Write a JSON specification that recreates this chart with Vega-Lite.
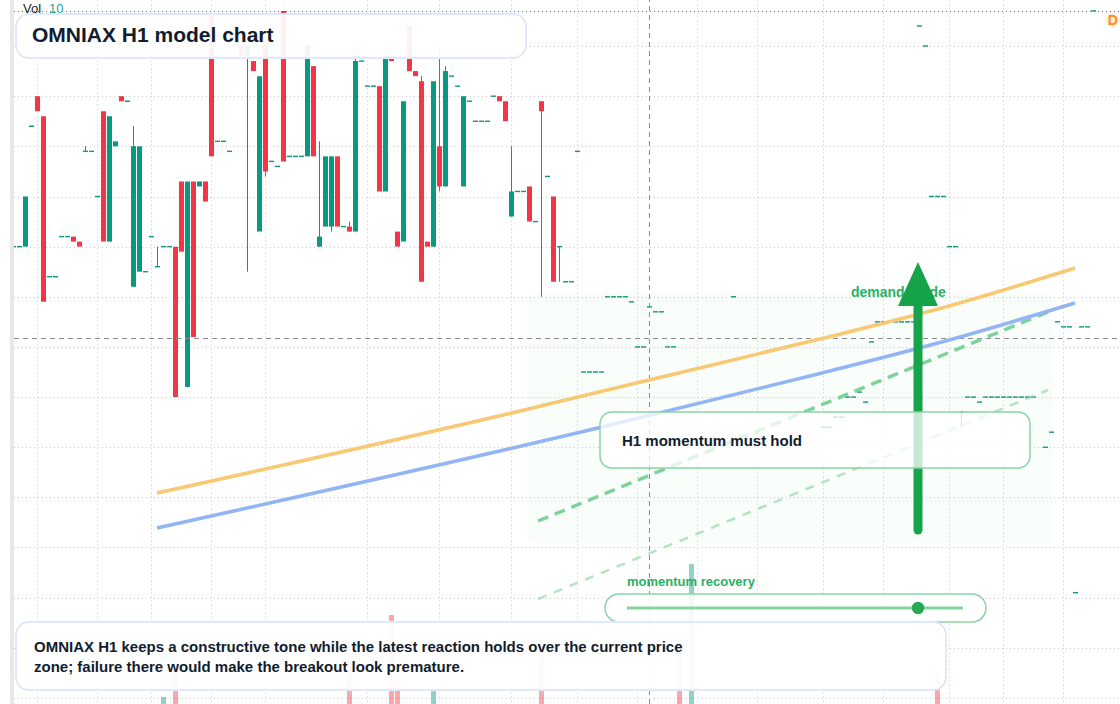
{
  "$schema": "https://vega.github.io/schema/vega-lite/v6.json",
  "description": "OMNIAX H1 model chart",
  "width": 1120,
  "height": 704,
  "padding": 0,
  "autosize": "none",
  "background": "#ffffff",
  "config": {"view": {"stroke": null}, "text": {"font": "Liberation Sans"}},
  "datasets": {
    "levels": [
      {"i":-0.917,"i2":183.4167,"p":229.91},{"i":-0.917,"i2":183.4167,"p":219.94},{"i":-0.917,"i2":183.4167,"p":209.97},
      {"i":-0.917,"i2":183.4167,"p":199.8},{"i":-0.917,"i2":183.4167,"p":189.83},{"i":-0.917,"i2":183.4167,"p":179.86},
      {"i":-0.917,"i2":183.4167,"p":169.89},{"i":-0.917,"i2":183.4167,"p":159.92},{"i":-0.917,"i2":183.4167,"p":149.95},
      {"i":-0.917,"i2":183.4167,"p":139.98},{"i":-0.917,"i2":183.4167,"p":130},{"i":-0.917,"i2":183.4167,"p":119.84},
      {"i":-0.917,"i2":183.4167,"p":109.87},{"i":-0.917,"i2":183.4167,"p":99.9}
    ],
    "candles": [
      {"i":-1,"open":190,"close":190,"dir":"up"},{"i":0,"open":190,"close":190,"dir":"up"},
      {"i":1,"open":190,"close":200,"dir":"up"},{"i":2,"open":214,"close":214,"dir":"up"},
      {"i":3,"open":220,"close":217,"dir":"down"},{"i":4,"open":216,"close":179,"dir":"down"},
      {"i":5,"open":184,"close":184,"dir":"up"},{"i":6,"open":184,"close":184,"dir":"up"},
      {"i":7,"open":192,"close":192,"dir":"up"},{"i":8,"open":192,"close":192,"dir":"up"},
      {"i":9,"open":192,"close":191,"dir":"down"},{"i":10,"open":191,"close":190,"dir":"down"},
      {"i":11,"open":209,"close":209,"high":210,"low":209,"dir":"up"},{"i":12,"open":209,"close":209,"dir":"up"},
      {"i":13,"open":200,"close":200,"dir":"up"},{"i":14,"open":217,"close":191,"dir":"down"},
      {"i":15,"open":191,"close":216,"dir":"up"},{"i":16,"open":210,"close":211,"dir":"up"},
      {"i":17,"open":220,"close":219,"dir":"down"},{"i":18,"open":219,"close":219,"dir":"up"},
      {"i":19,"open":182,"close":210,"high":214,"low":182,"dir":"up"},{"i":20,"open":185,"close":210,"dir":"up"},
      {"i":21,"open":185,"close":185,"dir":"up"},{"i":22,"open":192,"close":192,"dir":"up"},
      {"i":23,"open":186,"close":186,"high":190,"low":186,"dir":"up"},{"i":24,"open":190,"close":190,"dir":"up"},
      {"i":25,"open":190,"close":190,"dir":"up"},{"i":26,"open":190,"close":160,"dir":"down"},
      {"i":27,"open":203,"close":189,"dir":"down"},{"i":28,"open":162,"close":203,"dir":"up"},
      {"i":29,"open":203,"close":172,"dir":"down"},{"i":30,"open":202,"close":203,"dir":"up"},
      {"i":31,"open":203,"close":199,"dir":"down"},{"i":32,"open":236,"close":208,"dir":"down"},
      {"i":33,"open":211,"close":211,"dir":"up"},{"i":34,"open":211,"close":211,"dir":"up"},
      {"i":35,"open":209,"close":209,"dir":"up"},{"i":36,"open":234,"close":233,"dir":"down"},
      {"i":37,"open":230,"close":228,"dir":"down"},{"i":38,"open":228,"close":230,"high":230,"low":185,"dir":"up"},
      {"i":39,"open":227,"close":225,"dir":"down"},{"i":40,"open":193,"close":224,"dir":"up"},
      {"i":41,"open":231,"close":205,"high":231,"low":204,"dir":"down"},{"i":42,"open":207,"close":207,"dir":"up"},
      {"i":43,"open":206,"close":206,"dir":"up"},{"i":44,"open":237,"close":207,"dir":"down"},
      {"i":45,"open":208,"close":208,"dir":"up"},{"i":46,"open":208,"close":208,"dir":"up"},
      {"i":47,"open":208,"close":208,"dir":"up"},{"i":48,"open":208,"close":230,"dir":"up"},
      {"i":49,"open":226,"close":208,"dir":"down"},{"i":50,"open":190,"close":192,"high":211,"low":190,"dir":"up"},
      {"i":51,"open":194,"close":208,"dir":"up"},{"i":52,"open":194,"close":208,"high":208,"low":193,"dir":"up"},
      {"i":53,"open":208,"close":194,"dir":"down"},{"i":54,"open":194,"close":194,"dir":"up"},
      {"i":55,"open":194,"close":193,"high":195,"low":193,"dir":"down"},{"i":56,"open":193,"close":227,"high":228,"low":193,"dir":"up"},
      {"i":57,"open":227,"close":227,"dir":"up"},{"i":58,"open":222,"close":222,"dir":"up"},
      {"i":59,"open":222,"close":222,"dir":"up"},{"i":60,"open":222,"close":201,"dir":"down"},
      {"i":61,"open":201,"close":228,"dir":"up"},{"i":62,"open":228,"close":227,"dir":"down"},
      {"i":63,"open":193,"close":190,"dir":"down"},{"i":64,"open":191,"close":219,"dir":"up"},
      {"i":65,"open":234,"close":225,"dir":"down"},{"i":66,"open":225,"close":224,"dir":"down"},
      {"i":67,"open":223,"close":183,"high":224,"low":183,"dir":"down"},{"i":68,"open":191,"close":190,"dir":"down"},
      {"i":69,"open":190,"close":223,"dir":"up"},{"i":70,"open":210,"close":202,"high":230,"low":201,"dir":"down"},
      {"i":71,"open":202,"close":225,"high":226,"low":202,"dir":"up"},{"i":72,"open":224,"close":224,"dir":"up"},
      {"i":73,"open":222,"close":222,"dir":"up"},{"i":74,"open":202,"close":220,"dir":"up"},
      {"i":75,"open":219,"close":219,"dir":"up"},{"i":76,"open":215,"close":215,"dir":"up"},
      {"i":77,"open":215,"close":215,"dir":"up"},{"i":78,"open":215,"close":215,"dir":"up"},
      {"i":79,"open":220,"close":220,"dir":"up"},{"i":80,"open":220,"close":219,"dir":"down"},
      {"i":81,"open":219,"close":215,"dir":"down"},{"i":82,"open":196,"close":201,"high":210,"low":196,"dir":"up"},
      {"i":83,"open":201,"close":201,"dir":"up"},{"i":84,"open":201,"close":201,"dir":"up"},
      {"i":85,"open":202,"close":195,"dir":"down"},{"i":86,"open":195,"close":195,"dir":"up"},
      {"i":87,"open":219,"close":217,"high":219,"low":180,"dir":"down"},{"i":88,"open":204,"close":204,"dir":"up"},
      {"i":89,"open":200,"close":183,"dir":"down"},{"i":90,"open":190,"close":190,"high":190,"low":183,"dir":"up"},
      {"i":91,"open":183,"close":183,"dir":"up"},{"i":92,"open":183,"close":183,"dir":"up"},
      {"i":93,"open":209,"close":209,"dir":"up"},{"i":94,"open":165,"close":165,"dir":"up"},
      {"i":95,"open":165,"close":165,"dir":"up"},{"i":96,"open":165,"close":165,"dir":"up"},
      {"i":97,"open":165,"close":165,"dir":"up"},{"i":98,"open":180,"close":180,"dir":"up"},
      {"i":99,"open":180,"close":180,"dir":"up"},{"i":100,"open":180,"close":180,"dir":"up"},
      {"i":101,"open":180,"close":180,"dir":"up"},{"i":102,"open":179,"close":179,"dir":"up"},
      {"i":103,"open":170,"close":170,"dir":"up"},{"i":104,"open":170,"close":170,"dir":"up"},
      {"i":105,"open":178,"close":178,"dir":"up"},{"i":106,"open":177,"close":177,"dir":"up"},
      {"i":107,"open":177,"close":177,"dir":"up"},{"i":108,"open":170,"close":170,"dir":"up"},
      {"i":109,"open":170,"close":170,"dir":"up"},{"i":119,"open":180,"close":180,"dir":"up"},
      {"i":134,"open":154,"close":154,"dir":"up"},{"i":135,"open":154,"close":154,"dir":"up"},
      {"i":136,"open":156,"close":156,"dir":"up"},{"i":137,"open":156,"close":156,"dir":"up"},
      {"i":138,"open":160,"close":160,"dir":"up"},{"i":139,"open":160,"close":160,"dir":"up"},
      {"i":140,"open":161,"close":161,"dir":"up"},{"i":141,"open":159,"close":159,"dir":"up"},
      {"i":142,"open":171,"close":171,"dir":"up"},{"i":143,"open":175,"close":175,"dir":"up"},
      {"i":144,"open":175,"close":175,"dir":"up"},{"i":145,"open":175,"close":175,"dir":"up"},
      {"i":146,"open":175,"close":175,"dir":"up"},{"i":147,"open":175,"close":175,"dir":"up"},
      {"i":148,"open":175,"close":175,"dir":"up"},{"i":149,"open":175,"close":175,"dir":"up"},
      {"i":150,"open":234,"close":234,"dir":"up"},{"i":151,"open":230,"close":230,"dir":"up"},
      {"i":152,"open":200,"close":200,"dir":"up"},{"i":153,"open":200,"close":200,"dir":"up"},
      {"i":154,"open":200,"close":200,"dir":"up"},{"i":155,"open":190,"close":190,"dir":"up"},
      {"i":156,"open":190,"close":190,"dir":"up"},{"i":157,"open":157,"close":157,"high":157,"low":154,"dir":"up"},
      {"i":158,"open":160,"close":160,"dir":"up"},{"i":159,"open":160,"close":160,"dir":"up"},
      {"i":160,"open":159,"close":159,"dir":"up"},{"i":161,"open":160,"close":160,"dir":"up"},
      {"i":162,"open":160,"close":160,"dir":"up"},{"i":163,"open":160,"close":160,"dir":"up"},
      {"i":164,"open":160,"close":160,"dir":"up"},{"i":165,"open":160,"close":160,"dir":"up"},
      {"i":166,"open":160,"close":160,"dir":"up"},{"i":167,"open":160,"close":160,"dir":"up"},
      {"i":168,"open":160,"close":160,"dir":"up"},{"i":169,"open":160,"close":160,"dir":"up"},
      {"i":171,"open":150,"close":150,"dir":"up"},{"i":172,"open":153,"close":153,"dir":"up"},
      {"i":173,"open":175,"close":175,"dir":"up"},{"i":174,"open":174,"close":174,"dir":"up"},
      {"i":175,"open":174,"close":174,"dir":"up"},{"i":176,"open":121,"close":121,"dir":"up"},
      {"i":177,"open":174,"close":174,"dir":"up"},{"i":178,"open":174,"close":174,"dir":"up"},
      {"i":179,"open":237,"close":237,"dir":"up"}
    ],
    "volume": [
      {"i":24,"vol":1.4,"dir":"up"},{"i":26,"vol":6.4,"dir":"down"},{"i":55,"vol":8.8,"dir":"down"},
      {"i":62,"vol":17.8,"dir":"down"},{"i":63,"vol":6.4,"dir":"down"},{"i":69,"vol":3,"dir":"up"},
      {"i":87,"vol":9.8,"dir":"down"},{"i":110,"vol":10.2,"dir":"down"},{"i":112,"vol":28,"dir":"up"},
      {"i":153,"vol":6.2,"dir":"down"}
    ],
    "fast": [
      {"i":22.92,"p":140.87},{"i":83.42,"p":157.23},{"i":104.92,"p":163.41},
      {"i":133.42,"p":171.58},{"i":154.92,"p":178.16},{"i":175.92,"p":185.74}
    ],
    "slow": [
      {"i":22.92,"p":133.9},{"i":96.75,"p":153.94},{"i":133.42,"p":164.7},
      {"i":154.92,"p":171.38},{"i":175.92,"p":178.76}
    ],
    "upper": [{"i":86.42,"p":135.29},{"i":171.42,"p":176.97}],
    "lower": [{"i":86.42,"p":119.74},{"i":171.42,"p":161.41}]
  },
  "encoding": {
    "x": {
      "field": "i",
      "type": "quantitative",
      "scale": {"domain": [-3.25, 183.4167], "nice": false, "zero": false, "padding": 0},
      "axis": {
        "values": [3,13,22,32,41,58,70,82,93,103,113,123,134,144,155,164,174],
        "grid": true, "gridColor": "#c8c8c8", "gridDash": [1,3], "gridWidth": 1,
        "labels": false, "ticks": false, "domain": false, "title": null
      }
    }
  },
  "resolve": {"scale": {"y": "independent"}},
  "layer": [
    {
      "data": {"name": "levels"},
      "mark": {"type": "rule", "stroke": "#c8c8c8", "strokeWidth": 1, "strokeDash": [1,3]},
      "encoding": {
        "x2": {"field": "i2"},
        "y": {"field": "p", "type": "quantitative", "scale": {"domain": [98.8, 239.18], "nice": false, "zero": false}, "axis": null}
      }
    },
    {
      "data": {"name": "volume"},
      "mark": {"type": "bar", "orient": "vertical", "size": 5, "opacity": 0.44},
      "encoding": {
        "y": {"field": "vol", "type": "quantitative", "scale": {"domain": [0, 140.8], "nice": false}, "axis": null},
        "color": {"field": "dir", "type": "nominal", "scale": {"domain": ["up","down"], "range": ["#089981","#f23645"]}, "legend": null}
      }
    },
    {
      "layer": [
        {
          "data": {"values": [{"i":84.58,"i2":172.08,"p":180.76,"p2":130.9}]},
          "mark": {"type": "rect", "fill": "#34e37a", "opacity": 0.03, "cornerRadius": 10},
          "encoding": {
            "x2": {"field": "i2"},
            "y": {"field": "p", "type": "quantitative", "scale": {"domain": [98.8, 239.18], "nice": false, "zero": false}, "axis": null},
            "y2": {"field": "p2"}
          }
        },
        {
          "data": {"name": "candles"},
          "transform": [{"filter": "isValid(datum.high)"}],
          "mark": {"type": "rule", "strokeWidth": 1},
          "encoding": {
            "y": {"field": "high", "type": "quantitative", "scale": {"domain": [98.8, 239.18], "nice": false, "zero": false}, "axis": null},
            "y2": {"field": "low"},
            "color": {"field": "dir", "type": "nominal", "scale": {"domain": ["up","down"], "range": ["#089981","#f23645"]}, "legend": null}
          }
        },
        {
          "data": {"name": "candles"},
          "transform": [{"filter": "datum.open != datum.close"}],
          "mark": {"type": "bar", "orient": "vertical", "size": 5},
          "encoding": {
            "y": {"field": "open", "type": "quantitative", "scale": {"domain": [98.8, 239.18], "nice": false, "zero": false}, "axis": null},
            "y2": {"field": "close"},
            "color": {"field": "dir", "type": "nominal", "scale": {"domain": ["up","down"], "range": ["#089981","#f23645"]}, "legend": null}
          }
        },
        {
          "data": {"name": "candles"},
          "transform": [{"filter": "datum.open == datum.close"}],
          "mark": {"type": "tick", "orient": "horizontal", "size": 5, "thickness": 1.4, "opacity": 1},
          "encoding": {
            "y": {"field": "close", "type": "quantitative", "scale": {"domain": [98.8, 239.18], "nice": false, "zero": false}, "axis": null},
            "color": {"field": "dir", "type": "nominal", "scale": {"domain": ["up","down"], "range": ["#089981","#f23645"]}, "legend": null}
          }
        },
        {
          "data": {"values": [{"i":-3.25,"i2":-1.583,"p":98.8,"p2":239.18}]},
          "mark": {"type": "rect", "fill": "#ffffff"},
          "encoding": {
            "x2": {"field": "i2"},
            "y": {"field": "p", "type": "quantitative", "scale": {"domain": [98.8, 239.18], "nice": false, "zero": false}, "axis": null},
            "y2": {"field": "p2"}
          }
        },
        {
          "data": {"values": [{"i":-1.583,"i2":-0.917,"p":98.8,"p2":239.18}]},
          "mark": {"type": "rect", "fill": "#e8e8e8"},
          "encoding": {
            "x2": {"field": "i2"},
            "y": {"field": "p", "type": "quantitative", "scale": {"domain": [98.8, 239.18], "nice": false, "zero": false}, "axis": null},
            "y2": {"field": "p2"}
          }
        },
        {
          "data": {"values": [{"i":-0.917,"i2":183.4167,"p":236.89}]},
          "mark": {"type": "rule", "stroke": "#089981", "strokeWidth": 1, "strokeDash": [1,3]},
          "encoding": {
            "x2": {"field": "i2"},
            "y": {"field": "p", "type": "quantitative", "scale": {"domain": [98.8, 239.18], "nice": false, "zero": false}, "axis": null}
          }
        },
        {
          "data": {"values": [{"i":-0.917,"i2":183.4167,"p":171.68}]},
          "mark": {"type": "rule", "stroke": "#8c8c8c", "strokeWidth": 1, "strokeDash": [5,4]},
          "encoding": {
            "x2": {"field": "i2"},
            "y": {"field": "p", "type": "quantitative", "scale": {"domain": [98.8, 239.18], "nice": false, "zero": false}, "axis": null}
          }
        },
        {
          "data": {"values": [{"i":105,"p":98.8,"p2":239.18}]},
          "mark": {"type": "rule", "stroke": "#8c8c8c", "strokeWidth": 1, "strokeDash": [5,4]},
          "encoding": {
            "y": {"field": "p", "type": "quantitative", "scale": {"domain": [98.8, 239.18], "nice": false, "zero": false}, "axis": null},
            "y2": {"field": "p2"}
          }
        },
        {
          "data": {"values": [{"i":138.58,"p":180.76,"label":"demand guide"}]},
          "mark": {"type": "text", "align": "left", "baseline": "middle", "fontSize": 14, "fontWeight": "bold", "fill": "#2bb065"},
          "encoding": {
            "y": {"field": "p", "type": "quantitative", "scale": {"domain": [98.8, 239.18], "nice": false, "zero": false}, "axis": null},
            "text": {"field": "label"}
          }
        },
        {
          "data": {"name": "lower"},
          "mark": {"type": "line", "stroke": "#86d3a0", "strokeWidth": 2.5, "opacity": 0.62, "strokeDash": [9,8]},
          "encoding": {
            "y": {"field": "p", "type": "quantitative", "scale": {"domain": [98.8, 239.18], "nice": false, "zero": false}, "axis": null}
          }
        },
        {
          "data": {"name": "upper"},
          "mark": {"type": "line", "stroke": "#7fd29c", "strokeWidth": 3.5, "strokeDash": [11,7]},
          "encoding": {
            "y": {"field": "p", "type": "quantitative", "scale": {"domain": [98.8, 239.18], "nice": false, "zero": false}, "axis": null}
          }
        },
        {
          "data": {"name": "slow"},
          "mark": {"type": "line", "stroke": "#93b5f5", "strokeWidth": 3.6, "interpolate": "monotone"},
          "encoding": {
            "y": {"field": "p", "type": "quantitative", "scale": {"domain": [98.8, 239.18], "nice": false, "zero": false}, "axis": null}
          }
        },
        {
          "data": {"name": "fast"},
          "mark": {"type": "line", "stroke": "#f8c873", "strokeWidth": 3.6, "interpolate": "monotone"},
          "encoding": {
            "y": {"field": "p", "type": "quantitative", "scale": {"domain": [98.8, 239.18], "nice": false, "zero": false}, "axis": null}
          }
        },
        {
          "data": {"values": [{"i":149.75,"p":179.36,"p2":133.5}]},
          "mark": {"type": "rule", "stroke": "#16a34a", "strokeWidth": 9, "strokeCap": "round"},
          "encoding": {
            "y": {"field": "p", "type": "quantitative", "scale": {"domain": [98.8, 239.18], "nice": false, "zero": false}, "axis": null},
            "y2": {"field": "p2"}
          }
        },
        {
          "data": {"values": [{"i":146.417,"p":178.16,"p2":178.16},{"i":149.75,"p":186.94,"p2":178.16},{"i":153.08,"p":178.16,"p2":178.16}]},
          "mark": {"type": "area", "fill": "#16a34a", "orient": "vertical"},
          "encoding": {
            "y": {"field": "p", "type": "quantitative", "scale": {"domain": [98.8, 239.18], "nice": false, "zero": false}, "axis": null},
            "y2": {"field": "p2"}
          }
        },
        {
          "data": {"values": [{"i":97.58,"i2":161.08,"p":120.74,"p2":115.15}]},
          "mark": {"type": "rect", "fill": "#ffffff", "fillOpacity": 0.88, "stroke": "#8ad3a5", "strokeWidth": 1.5, "cornerRadius": 14},
          "encoding": {
            "x2": {"field": "i2"},
            "y": {"field": "p", "type": "quantitative", "scale": {"domain": [98.8, 239.18], "nice": false, "zero": false}, "axis": null},
            "y2": {"field": "p2"}
          }
        },
        {
          "data": {"values": [{"i":101.25,"i2":157.25,"p":117.94}]},
          "mark": {"type": "rule", "stroke": "#86d3a0", "strokeWidth": 3},
          "encoding": {
            "x2": {"field": "i2"},
            "y": {"field": "p", "type": "quantitative", "scale": {"domain": [98.8, 239.18], "nice": false, "zero": false}, "axis": null}
          }
        },
        {
          "data": {"values": [{"i":149.75,"p":117.94}]},
          "mark": {"type": "point", "shape": "circle", "filled": true, "fill": "#27a853", "size": 154, "opacity": 1},
          "encoding": {
            "y": {"field": "p", "type": "quantitative", "scale": {"domain": [98.8, 239.18], "nice": false, "zero": false}, "axis": null}
          }
        },
        {
          "data": {"values": [{"i":96.75,"i2":168.417,"p":157.03,"p2":145.86}]},
          "mark": {"type": "rect", "fill": "#ffffff", "fillOpacity": 0.76, "stroke": "#8ad3a5", "strokeWidth": 1.5, "cornerRadius": 12},
          "encoding": {
            "x2": {"field": "i2"},
            "y": {"field": "p", "type": "quantitative", "scale": {"domain": [98.8, 239.18], "nice": false, "zero": false}, "axis": null},
            "y2": {"field": "p2"}
          }
        },
        {
          "data": {"values": [{"i":-0.583,"i2":84.417,"p":236.39,"p2":227.61},{"i":-0.583,"i2":154.417,"p":115.15,"p2":101.59}]},
          "mark": {"type": "rect", "fill": "#ffffff", "fillOpacity": 0.93, "stroke": "#dfe9fb", "strokeWidth": 2, "cornerRadius": 13},
          "encoding": {
            "x2": {"field": "i2"},
            "y": {"field": "p", "type": "quantitative", "scale": {"domain": [98.8, 239.18], "nice": false, "zero": false}, "axis": null},
            "y2": {"field": "p2"}
          }
        },
        {
          "data": {"values": [{"i":2.083,"p":232,"label":"OMNIAX H1 model chart"}]},
          "mark": {"type": "text", "align": "left", "baseline": "middle", "fontSize": 21, "fontWeight": "bold", "fill": "#111d2e"},
          "encoding": {
            "y": {"field": "p", "type": "quantitative", "scale": {"domain": [98.8, 239.18], "nice": false, "zero": false}, "axis": null},
            "text": {"field": "label"}
          }
        },
        {
          "data": {"values": [
            {"i":2.417,"p":110.17,"label":"OMNIAX H1 keeps a constructive tone while the latest reaction holds over the current price"},
            {"i":2.417,"p":106.17,"label":"zone; failure there would make the breakout look premature."},
            {"i":100.417,"p":151.24,"label":"H1 momentum must hold"}
          ]},
          "mark": {"type": "text", "align": "left", "baseline": "middle", "fontSize": 15, "fontWeight": "bold", "fill": "#111d2e"},
          "encoding": {
            "y": {"field": "p", "type": "quantitative", "scale": {"domain": [98.8, 239.18], "nice": false, "zero": false}, "axis": null},
            "text": {"field": "label"}
          }
        },
        {
          "data": {"values": [{"i":101.25,"p":123.13,"label":"momentum recovery"}]},
          "mark": {"type": "text", "align": "left", "baseline": "middle", "fontSize": 13, "fontWeight": "bold", "fill": "#2bb065"},
          "encoding": {
            "y": {"field": "p", "type": "quantitative", "scale": {"domain": [98.8, 239.18], "nice": false, "zero": false}, "axis": null},
            "text": {"field": "label"}
          }
        },
        {
          "data": {"values": [{"i":0.583,"p":237.38,"label":"Vol"}]},
          "mark": {"type": "text", "align": "left", "baseline": "middle", "fontSize": 13, "fill": "#222222"},
          "encoding": {
            "y": {"field": "p", "type": "quantitative", "scale": {"domain": [98.8, 239.18], "nice": false, "zero": false}, "axis": null},
            "text": {"field": "label"}
          }
        },
        {
          "data": {"values": [{"i":4.917,"p":237.38,"label":"10"}]},
          "mark": {"type": "text", "align": "left", "baseline": "middle", "fontSize": 13, "fill": "#26a69a"},
          "encoding": {
            "y": {"field": "p", "type": "quantitative", "scale": {"domain": [98.8, 239.18], "nice": false, "zero": false}, "axis": null},
            "text": {"field": "label"}
          }
        },
        {
          "data": {"values": [{"i":182.2,"p":235.09}]},
          "mark": {"type": "point", "shape": "circle", "filled": true, "fill": "#ffeed8", "size": 200, "opacity": 1},
          "encoding": {
            "y": {"field": "p", "type": "quantitative", "scale": {"domain": [98.8, 239.18], "nice": false, "zero": false}, "axis": null}
          }
        },
        {
          "data": {"values": [{"i":182.2,"p":235.09,"label":"D"}]},
          "mark": {"type": "text", "align": "center", "baseline": "middle", "fontSize": 14, "fontWeight": "bold", "fill": "#ff8c1a"},
          "encoding": {
            "y": {"field": "p", "type": "quantitative", "scale": {"domain": [98.8, 239.18], "nice": false, "zero": false}, "axis": null},
            "text": {"field": "label"}
          }
        }
      ]
    }
  ]
}
